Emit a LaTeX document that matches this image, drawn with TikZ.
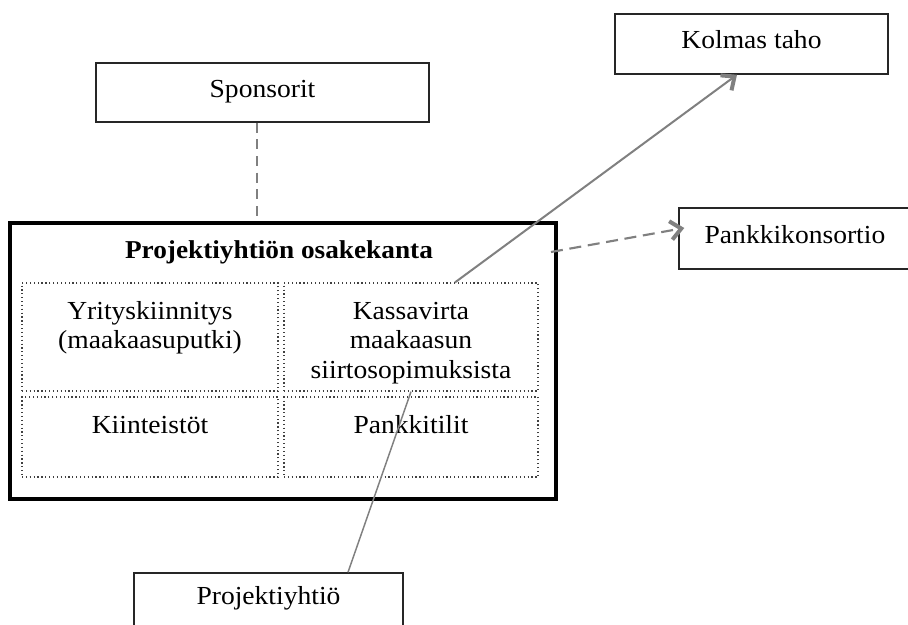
\documentclass[tikz,border=0pt]{standalone}
\usepackage{fontspec}
\setmainfont{Liberation Serif}[FakeStretch=1.06]
\usetikzlibrary{arrows.meta}
\newdimen\pxu \pxu=0.75pt
\begin{document}
\begin{tikzpicture}[x=0.75pt,y=-0.75pt,
  txt/.style={font=\fontsize{19.5}{22}\selectfont},
  outerbox/.style={draw=black!85, line width=1.1pt, rectangle, inner sep=0pt, txt, text height=12pt, text depth=5.25pt},
  cell/.style={draw=black!75, dotted, line width=0.9pt, rectangle, inner sep=0pt},
  celltext/.style={txt, align=center, anchor=north, inner sep=0pt},
  plainconn/.style={draw=black!50, line width=1.1pt},
  dashconn/.style={draw=black!50, line width=1.1pt, dash pattern=on 7.5pt off 5pt},
  arrconn/.style={draw=black!50, line width=1.5pt, -{Straight Barb[length=8pt,width=14pt,line width=3pt]}},
  dasharr/.style={draw=black!50, line width=1.6pt, dash pattern=on 9pt off 5pt, -{Straight Barb[length=8pt,width=14pt,line width=3pt]}}
]
\clip (0,0) rectangle (908,625);
\useasboundingbox (0,0) rectangle (908,625);
\fill[white] (0,0) rectangle (908,625);

% outer boxes
\node[outerbox, minimum width=333\pxu, minimum height=59\pxu] (spons) at (262.5,92.5) {Sponsorit};
\node[outerbox, minimum width=273\pxu, minimum height=60\pxu] (kolmas) at (751.5,44) {Kolmas taho};
\node[outerbox, minimum width=232\pxu, minimum height=61\pxu] (pankki) at (795,238.5) {Pankkikonsortio};
\node[outerbox, minimum width=269\pxu, minimum height=53\pxu] (proj) at (268.5,599.5) {Projektiyhtiö};

% main thick box
\node[draw=black, line width=3pt, rectangle, inner sep=0pt, minimum width=546\pxu, minimum height=276\pxu] (main) at (283,361) {};
\node[font=\fontsize{19.3}{21.75}\selectfont\bfseries, anchor=base, inner sep=0pt] (title) at (279,258) {Projektiyhtiön osakekanta};

% cells
\node[cell, minimum width=256\pxu, minimum height=108\pxu] (yrit) at (150,337) {};
\node[cell, minimum width=254\pxu, minimum height=108\pxu] (kassa) at (411,337) {};
\node[cell, minimum width=256\pxu, minimum height=80\pxu] (kiint) at (150,437) {};
\node[cell, minimum width=254\pxu, minimum height=80\pxu] (tilit) at (411,437) {};

\node[celltext] (yritT) at ([yshift=-12.25pt]yrit.north) {\strut Yrityskiinnitys\\\strut(maakaasuputki)};
\node[celltext] (kassaT) at ([yshift=-12.25pt]kassa.north) {\strut Kassavirta\\\strut maakaasun\\\strut siirtosopimuksista};
\node[celltext] (kiintT) at ([yshift=-12.25pt]kiint.north) {\strut Kiinteistöt};
\node[celltext] (tilitT) at ([yshift=-12.25pt]tilit.north) {\strut Pankkitilit};

% connectors
\draw[dashconn] ([xshift=-5.5\pxu]spons.south) -- ([xshift=-5.5\pxu]spons.south |- main.north);
\draw[arrconn] ([xshift=44\pxu]kassa.north) -- ([xshift=-14.5\pxu]kolmas.south);
\draw[dasharr] ([shift={(-7,31)}]main.north east) -- ([shift={(6,-10.5)}]pankki.west);
\draw[plainconn] ([xshift=79.5\pxu]proj.north) -- (kassa.south);
\end{tikzpicture}
\end{document}
